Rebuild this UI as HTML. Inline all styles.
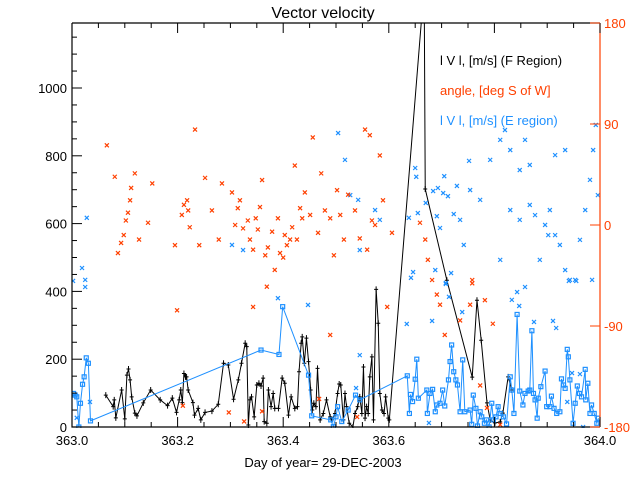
<!DOCTYPE html>
<html><head><meta charset="utf-8"><style>
body{margin:0;background:#fff}
svg{display:block;font-family:"Liberation Sans",sans-serif}
</style></head><body>
<svg id="chart" width="640" height="480" viewBox="0 0 640 480" xmlns="http://www.w3.org/2000/svg">
<defs><clipPath id="pc"><rect x="72" y="23" width="528" height="405"/></clipPath></defs>
<rect width="640" height="480" fill="#fff"/>
<text x="323" y="18" font-size="16" text-anchor="middle">Vector velocity</text>
<g id="plot" clip-path="url(#pc)"></g>
<g id="axes"></g>
<text x="323" y="467" font-size="13" text-anchor="middle">Day of year= 29-DEC-2003</text>
<g font-size="13">
<text x="440" y="65">l V l, [m/s] (F Region)</text>
<text x="440" y="95" fill="#ff4000">angle, [deg S of W]</text>
<text x="440" y="125" fill="#1e90ff">l V l, [m/s] (E region)</text>
</g>
</svg>
<script>
const fDays=[.064,.078,.080,.083,.094,.100,.104,.107,.110,.113,.119,.123,.135,.149,.167,.181,.190,.198,.203,.206,.209,.212,.215,.217,.220,.229,.232,.239,.244,.252,.265,.277,.287,.296,.306,.315,.321,.328,.331,.334,.337,.340,.345,.350,.354,.358,.362,.364,.369,.372,.377,.381,.384,.391,.398,.403,.410,.415,.422,.427,.430,.434,.436,.440,.444,.448,.452,.455,.458,.462,.465,.470,.476,.482,.489,.492,.498,.503,.506,.509,.514,.517,.520,.525,.532,.536,.541,.545,.549,.552,.555,.558,.561,.564,.568,.571,.576,.580,.583,.587,.591,.594,.599,.601,.667,.669,.710,.758,.767,.775,.786,.792,.801,.811,.816,.826,.833];
const fVals=[94,60,80,27,109,24,153,171,139,89,41,33,71,109,80,63,85,43,80,109,72,158,148,148,109,72,35,55,21,43,47,67,188,183,82,139,188,247,237,6,80,89,30,124,129,121,144,16,11,109,60,99,55,55,144,129,35,89,55,60,163,247,266,188,262,193,109,50,70,60,173,21,40,80,30,21,40,99,127,124,21,99,60,11,0,40,60,89,40,177,26,60,40,148,207,21,406,306,99,50,40,89,26,21,1300,702,433,147,374,256,71,21,12,15,41,148,109];
const eDays=[.003,.006,.009,.013,.016,.020,.023,.027,.031,.035,.358,.392,.399,.448,.454,.490,.495,.500,.503,.511,.523,.537,.545,.635,.639,.641,.645,.650,.653,.656,.672,.673,.678,.683,.688,.691,.697,.702,.706,.713,.716,.719,.723,.727,.730,.735,.740,.744,.754,.757,.760,.765,.768,.773,.776,.781,.785,.790,.795,.798,.803,.807,.811,.817,.823,.830,.833,.837,.843,.848,.854,.858,.864,.867,.871,.874,.877,.881,.883,.888,.896,.899,.905,.908,.913,.918,.924,.927,.931,.934,.938,.940,.943,.949,.953,.957,.961,.965,.972,.973,.977,.981,.984,.989,.994,.997];
const eVals=[99,94,89,0,70,126,148,204,188,18,227,214,355,153,33,21,1,30,60,16,50,94,80,151,40,96,75,141,200,85,109,40,99,111,45,65,70,109,62,139,193,242,163,139,124,45,198,45,50,8,94,55,3,45,30,11,21,0,70,21,30,60,40,30,9,148,109,40,332,106,65,99,106,109,284,99,80,26,85,119,165,60,60,91,55,40,45,142,124,114,229,207,139,11,70,121,99,89,170,80,129,40,65,40,11,26];
const aDays=[.066,.081,.087,.093,.098,.102,.106,.110,.112,.119,.127,.144,.152,.195,.199,.208,.212,.218,.220,.223,.233,.241,.252,.265,.278,.284,.303,.309,.314,.318,.324,.333,.337,.343,.348,.352,.356,.360,.366,.371,.379,.384,.390,.394,.400,.403,.407,.413,.417,.422,.426,.432,.436,.441,.451,.456,.466,.472,.479,.489,.496,.502,.508,.515,.523,.536,.545,.555,.559,.564,.568,.574,.583,.589,.606,.659,.669,.674,.682,.691,.697,.706,.735,.754,.758,.773,.782,.811,.489,.540,.343,.369,.468,.210,.297,.326,.360,.597,.797,.786,.758];
const aVals=[71,43,-25,-16,-9,4,11,22,33,46,-13,2,37,-18,-76,9,18,22,13,-2,85,-18,42,13,-13,37,29,0,15,22,-3,4,-13,-22,6,-4,16,40,-27,-20,-6,-40,6,-25,-29,-9,-18,-13,-2,53,-13,15,6,29,9,78,-7,46,13,6,-27,31,9,-13,27,13,-12,85,-22,80,4,0,62,22,-7,2,-13,-31,-49,-62,-71,-98,-85,-71,-49,-143,-67,-178,-98,-171,-73,-55,-155,-161,-167,-175,-166,-73,-88,-163,-52];
const bDays=[.028,.019,.025,.034,.009,.025,.002,.303,.324,.390,.447,.504,.517,.527,.542,.545,.574,.583,.650,.652,.705,.729,.684,.693,.703,.712,.670,.638,.655,.691,.723,.735,.697,.742,.646,.642,.688,.718,.708,.752,.634,.682,.545,.538,.676,.739,.714,.708,.847,.843,.858,.875,.911,.917,.947,.962,.938,.968,.941,.955,.985,.811,.820,.830,.848,.858,.867,.792,.754,.773,.877,.886,.896,.905,.915,.924,.934,.943,.953,.962,.972,.981,.987,.992,.996,.934,.915,.902,.867,.848,.830,.811,.833];
const bVals=[617,469,434,74,27,413,431,537,522,380,360,867,788,684,670,522,640,611,764,738,740,711,696,705,690,681,661,617,631,622,628,611,587,537,457,440,463,454,425,785,304,313,212,115,12,339,384,422,357,398,413,310,313,292,159,156,74,0,431,431,434,847,876,817,758,847,773,788,699,670,625,493,596,640,566,537,463,434,434,552,640,729,817,891,684,817,802,566,655,611,640,493,375];
const xTicks=["363.0","363.2","363.4","363.6","363.8","364.0"];
const yTicks=["0","200","400","600","800","1000"];
const aTicks=["-180","-90","0","90","180"];

const X0=72,X1=600,YB=427,YT=23;
const xs=d=>X0+d*(X1-X0);
const ys=v=>YB-v*0.339;
const as=a=>YB-(a+180)/360*(YB-YT);
const NS="http://www.w3.org/2000/svg";
const plot=document.getElementById('plot'),axes=document.getElementById('axes');
function mk(t,at,p){const e=document.createElementNS(NS,t);for(const k in at)e.setAttribute(k,at[k]);p.appendChild(e);return e;}
const BLUE="#1e90ff",RED="#ff4000";
// F region line
let fl=mk('polyline',{points:fDays.map((d,i)=>xs(d)+','+ys(fVals[i])).join(' '),fill:'none',stroke:'#000','stroke-width':1},plot);


fDays.forEach((d,i)=>{const x=xs(d),y=ys(fVals[i]);
 const m=mk('path',{d:`M${x-2},${y}h4M${x},${y-3}v6`,stroke:'#000','stroke-width':1},plot);
 
 });
// E region line
let el=mk('polyline',{points:eDays.map((d,i)=>xs(d)+','+ys(eVals[i])).join(' '),fill:'none',stroke:BLUE,'stroke-width':1},plot);


eDays.forEach((d,i)=>{const x=xs(d),y=ys(eVals[i]);
 const m=mk('rect',{x:x-2,y:y-2,width:4,height:4,fill:'none',stroke:BLUE,'stroke-width':1.2},plot);
 
 });
function cross(x,y,c){return mk('path',{d:`M${x-2},${y-2}l4,4M${x+2},${y-2}l-4,4`,stroke:c,'stroke-width':1.2},plot);}
bDays.forEach((d,i)=>{const m=cross(xs(d),ys(bVals[i]),BLUE);
 
 });
aDays.forEach((d,i)=>{const m=cross(xs(d),as(aVals[i]),RED);
 
 });
// axes frame
let fr=mk('path',{d:`M${X0},${YT}V${YB}H${X1}M${X0},${YT}H${X1}`,stroke:'#000',fill:'none','stroke-width':1.2},axes);


let ra=mk('line',{x1:X1,y1:YT,x2:X1,y2:YB,stroke:RED,'stroke-width':1.2},axes);


for(let k=0;k<=20;k++){const x=xs(k*0.05),len=k%4==0?10:5;
 mk('path',{d:`M${x},${YB}v-${len}M${x},${YT}v${len}`,stroke:'#000'},axes);}
xTicks.forEach((t,i)=>{const tx=mk('text',{x:xs(i*0.2),y:YB+18,'font-size':13,'text-anchor':'middle'},axes);tx.textContent=t;
 
 });
for(let v=0;v<=1150;v+=50){const y=ys(v),len=v%200==0?10:5;mk('path',{d:`M${X0},${y}h${len}`,stroke:'#000'},axes);}
yTicks.forEach((t,i)=>{const tx=mk('text',{x:X0-5,y:ys(i*200)+5,'font-size':13,'text-anchor':'end'},axes);tx.textContent=t;
 
 });
aTicks.forEach((t,i)=>{const y=as(-180+i*90);mk('path',{d:`M${X1},${y}h-10`,stroke:RED},axes);
 const tx=mk('text',{x:X1+4,y:y+5,'font-size':13,fill:RED},axes);tx.textContent=t;
 
 });
</script>
</body></html>
